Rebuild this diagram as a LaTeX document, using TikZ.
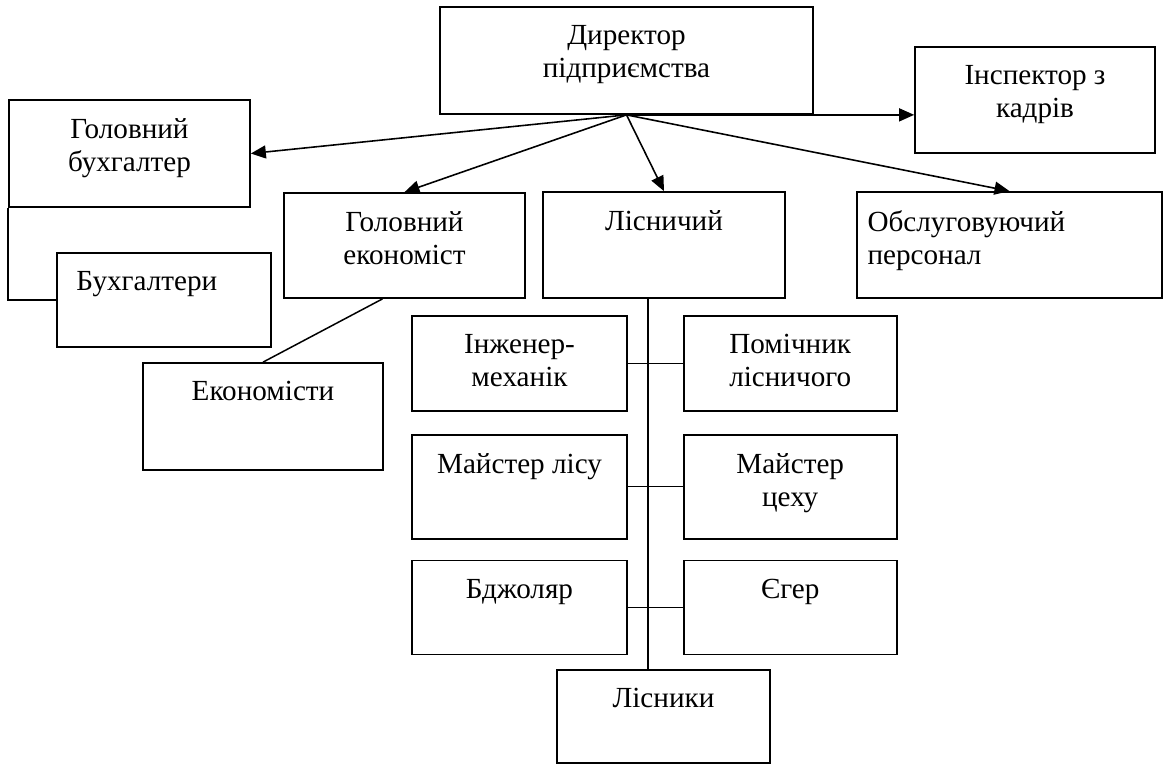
\documentclass[tikz,border=0pt]{standalone}
\usepackage{fontspec}
\setmainfont{Liberation Serif}
\usepackage{tikz}
\usetikzlibrary{arrows.meta, positioning, calc}
\tikzset{
    unit/.style   ={rectangle, draw=black, line width=1pt, inner sep=0pt},
    title/.style  ={anchor=north, align=center, inner sep=0pt, yshift=-0.38cm, font=\fontsize{16.6}{18.8}\selectfont},
    ltitle/.style ={title, anchor=north west},
    flowarrow/.style={-{Triangle[length=0.3cm, width=0.26cm]}, line width=0.9pt},
    link/.style   ={line width=0.85pt},
}
\begin{document}
\begin{tikzpicture}[x=0.02cm, y=-0.02cm]
    \useasboundingbox (0,0) rectangle (1164,765);
    \node[unit, minimum width=7.46cm, minimum height=2.14cm, label={[title]north:Директор\\підприємства}] (dir) at (626.5,60.5) {};
    \node[unit, minimum width=4.82cm, minimum height=2.14cm, label={[title]north:Головний\\бухгалтер}] (buh) at (129.5,153.5) {};
    \node[unit, minimum width=4.28cm, minimum height=1.88cm, label={[ltitle, xshift=0.4cm]north west:Бухгалтери}] (buhs) at (164,300) {};
    \node[unit, minimum width=4.82cm, minimum height=2.10cm, label={[title]north:Головний\\економіст}] (econ) at (404.5,245.5) {};
    \node[unit, minimum width=4.80cm, minimum height=2.14cm, label={[title]north:Економісти}] (econs) at (263,416.5) {};
    \node[unit, minimum width=4.84cm, minimum height=2.12cm, label={[title]north:Лісничий}] (lisn) at (664,245) {};
    \node[unit, minimum width=4.80cm, minimum height=2.12cm, label={[title]north:Інспектор з\\кадрів}] (insp) at (1035,100) {};
    \node[unit, minimum width=6.10cm, minimum height=2.12cm, label={[ltitle, xshift=0.22cm, align=left]north west:Обслуговуючий\\персонал}] (serv) at (1009.5,245) {};

    \node[unit, minimum width=4.30cm, minimum height=1.90cm, label={[title]north:Інженер-\\механік}] (eng) at (519.5,363.5) {};
    \node[unit, minimum width=4.30cm, minimum height=2.08cm, label={[title]north:Майстер лісу}, below=0.44cm of eng] (mlis) {};
    \node[unit, minimum width=4.30cm, minimum height=1.88cm, label={[title]north:Бджоляр}, below=0.40cm of mlis] (bee) {};
    \node[unit, minimum width=4.26cm, minimum height=1.90cm, label={[title]north:Помічник\\лісничого}, right=1.10cm of eng] (pom) {};
    \node[unit, minimum width=4.26cm, minimum height=2.08cm, label={[title]north:Майстер\\цеху}, right=1.10cm of mlis] (mceh) {};
    \node[unit, minimum width=4.26cm, minimum height=1.88cm, label={[title]north:Єгер}, right=1.10cm of bee] (yeg) {};
    \node[unit, minimum width=4.26cm, minimum height=1.86cm, label={[title]north:Лісники}] (lisnyky) at (663.5,716.5) {};

    \draw[flowarrow] (dir.south) -- (buh.east);
    \draw[flowarrow] (dir.south) -- (econ.north);
    \draw[flowarrow] (dir.south) -- (lisn.north);
    \draw[flowarrow] (dir.south) -- (serv.north);
    \draw[flowarrow] (dir.south) -- (dir.south -| insp.west);

    \draw[link] (buh.south west) |- (buhs.west);
    \draw[link] ([xshift=-0.44cm]econ.south) -- (econs.north);
    \draw[link] ([xshift=-0.32cm]lisn.south) coordinate (trunk) -- (trunk |- lisnyky.north);
    \draw[link] (eng.east) -- (pom.west);
    \draw[link] (mlis.east) -- (mceh.west);
    \draw[link] (bee.east) -- (yeg.west);
\end{tikzpicture}
\end{document}
